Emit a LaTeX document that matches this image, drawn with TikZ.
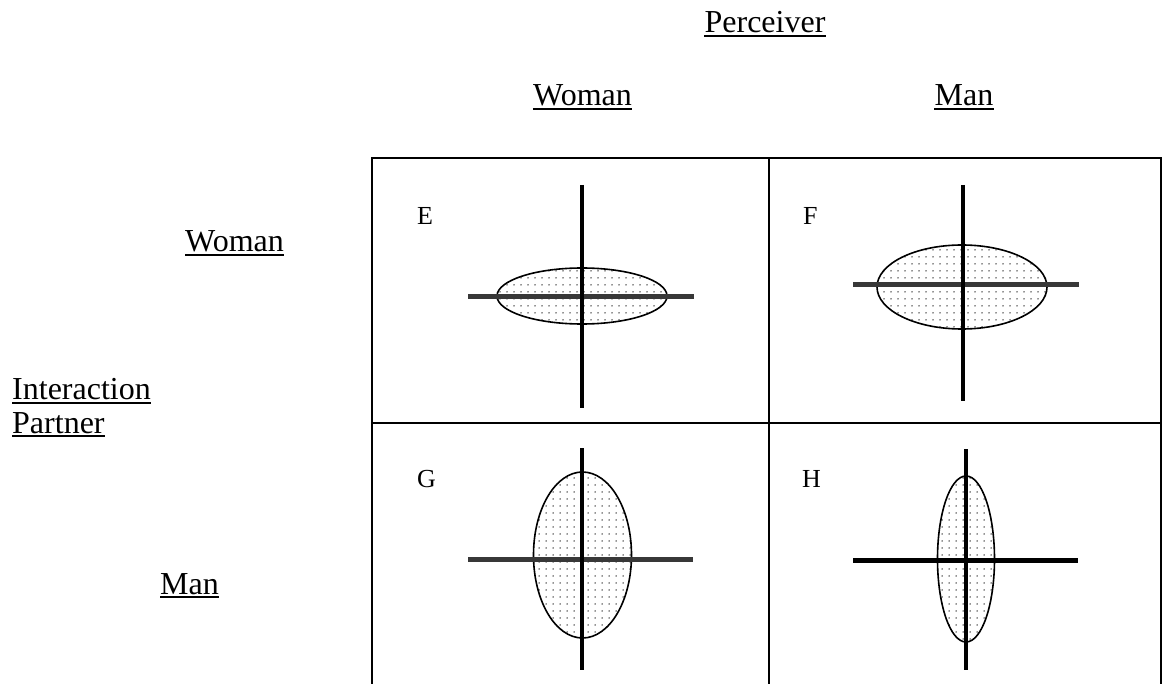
\documentclass[tikz,border=0pt]{standalone}
\usepackage{fontspec}
\setmainfont{Liberation Serif}
\usetikzlibrary{patterns.meta}
\tikzset{
  lbl/.style={inner sep=0pt, font=\fontsize{32}{38}\selectfont},
  cellname/.style={inner sep=0pt, anchor=base west, font=\fontsize{26}{30}\selectfont},
  gridline/.style={line width=1.8pt},
  vbar/.style={line width=4.5pt},
  hbar/.style={line width=5pt, draw=black!78},
  hbarblack/.style={line width=5pt, draw=black},
  blob/.style={draw, line width=1.6pt, preaction={fill=white},
    pattern={Dots[distance=6.5pt,radius=0.8pt]}, pattern color=black!85},
  uline/.style={line width=1.6pt},
}
\newcommand\ulnode[1]{\draw[uline] ([yshift=-3pt]#1.base west) -- ([yshift=-3pt]#1.base east);}
\begin{document}
\begin{tikzpicture}[x=1pt,y=-1pt]
\useasboundingbox (0,0) rectangle (1162,684);
% labels
\node[lbl, anchor=base] (perc) at (765,33) {Perceiver}; \ulnode{perc}
\node[lbl, anchor=base] (colw) at (582.5,106) {Woman}; \ulnode{colw}
\node[lbl, anchor=base] (colm) at (964,106) {Man}; \ulnode{colm}
\node[lbl, anchor=base west] (roww) at (185,252) {Woman}; \ulnode{roww}
\node[lbl, anchor=base west] (rowm) at (160,594) {Man}; \ulnode{rowm}
\node[lbl, anchor=base west] (ip1) at (12,400) {Interaction}; \ulnode{ip1}
\node[lbl, anchor=base west] (ip2) at (12,433) {Partner}; \ulnode{ip2}
% grid
\coordinate (tl) at (372,158);
\coordinate (tm) at (769,158);
\coordinate (tr) at (1161,158);
\coordinate (bl) at (372,690);
\coordinate (bm) at (769,690);
\coordinate (br) at (1161,690);
\coordinate (ml) at (372,423);
\coordinate (mr) at (1161,423);
\draw[gridline] (bl) -- (tl) -- (tr) -- (br);
\draw[gridline] (tm) -- (bm);
\draw[gridline] (ml) -- (mr);
% cell letters
\node[cellname] (E) at (417,225) {E};
\node[cellname] (F) at (803,225) {F};
\node[cellname] (G) at (417,487) {G};
\node[cellname] (H) at (802,487) {H};
% ellipses
\draw[blob] (582,296) ellipse [x radius=85pt, y radius=28pt];
\draw[blob] (962,287) ellipse [x radius=85pt, y radius=42pt];
\draw[blob] (582.5,555) ellipse [x radius=49pt, y radius=83pt];
\draw[blob] (966,559) ellipse [x radius=28.5pt, y radius=83pt];
% crosses
\coordinate (e1) at (468,297); \coordinate (e2) at (694,297);
\coordinate (e3) at (582,185); \coordinate (e4) at (582,408);
\draw[hbar] (e1) -- (e2); \draw[vbar] (e3) -- (e4);
\coordinate (f1) at (853,285); \coordinate (f2) at (1079,285);
\coordinate (f3) at (963,185); \coordinate (f4) at (963,401);
\draw[hbar] (f1) -- (f2); \draw[vbar] (f3) -- (f4);
\coordinate (g1) at (468,559); \coordinate (g2) at (693,559);
\coordinate (g3) at (582,448); \coordinate (g4) at (582,670);
\draw[hbar] (g1) -- (g2); \draw[vbar] (g3) -- (g4);
\coordinate (h1) at (853,560); \coordinate (h2) at (1078,560);
\coordinate (h3) at (966,449); \coordinate (h4) at (966,670);
\draw[hbarblack] (h1) -- (h2); \draw[vbar] (h3) -- (h4);
\end{tikzpicture}
\end{document}
